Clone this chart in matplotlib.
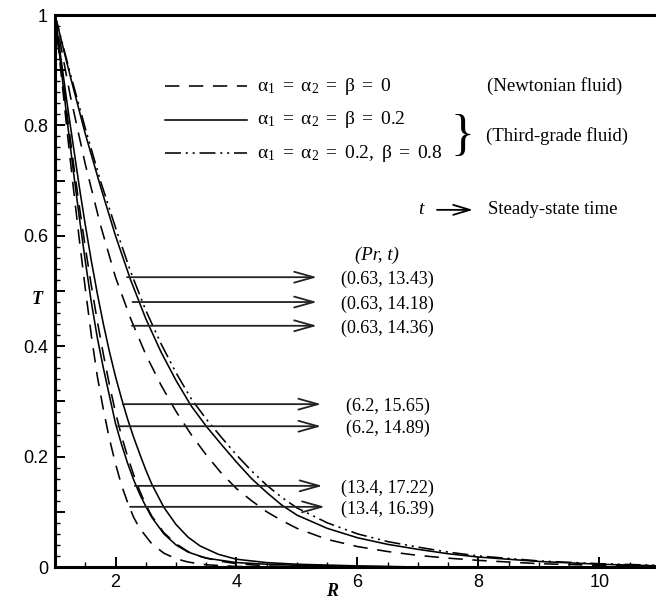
import numpy as np
import matplotlib
matplotlib.use("Agg")
import matplotlib.pyplot as plt
from matplotlib.ticker import FixedLocator, FuncFormatter, MultipleLocator

plt.rcParams["mathtext.fontset"] = "custom"
plt.rcParams["mathtext.rm"] = "Liberation Serif"
plt.rcParams["mathtext.it"] = "Liberation Serif:italic"
plt.rcParams["mathtext.bf"] = "Liberation Serif:bold"

# ---------------- data ----------------
# Pr = 0.63 (outer group)
R_out = [1, 1.25, 1.5, 1.75, 2, 2.25, 2.5, 2.75, 3, 3.25, 3.5, 3.75, 4, 4.25, 4.5,
         4.75, 5, 5.5, 6, 6.5, 7, 7.5, 8, 9, 10, 11]
T_n063 = [1, 0.855, 0.73, 0.62, 0.525, 0.45, 0.385, 0.33, 0.282, 0.24, 0.203, 0.17,
          0.142, 0.12, 0.1, 0.084, 0.07, 0.05, 0.037, 0.028, 0.021, 0.016, 0.012,
          0.006, 0.003, 0.001]
T_s063 = [1, 0.89, 0.785, 0.69, 0.6, 0.52, 0.45, 0.39, 0.338, 0.292, 0.255, 0.222,
          0.19, 0.16, 0.135, 0.112, 0.094, 0.07, 0.053, 0.041, 0.032, 0.024, 0.018,
          0.01, 0.005, 0.002]
T_d063 = [1, 0.895, 0.795, 0.70, 0.615, 0.535, 0.465, 0.405, 0.352, 0.305, 0.268,
          0.235, 0.203, 0.174, 0.148, 0.126, 0.107, 0.08, 0.06, 0.046, 0.036, 0.027,
          0.02, 0.011, 0.006, 0.003]

# Pr = 13.4 and 6.2 (inner groups)
R_n134 = [1, 1.1, 1.2, 1.3, 1.4, 1.5, 1.6, 1.7, 1.8, 1.9, 2.0, 2.1, 2.2, 2.3, 2.4,
          2.6, 2.8, 3.0, 3.2, 3.5, 4.0, 4.5]
T_n134 = [1, 0.895, 0.79, 0.69, 0.595, 0.505, 0.42, 0.345, 0.285, 0.232, 0.187,
          0.148, 0.117, 0.09, 0.07, 0.042, 0.025, 0.015, 0.009, 0.004, 0.001, 0]
R_s134 = [1, 1.1, 1.2, 1.3, 1.4, 1.5, 1.6, 1.7, 1.8, 1.9, 2.0, 2.1, 2.2, 2.3, 2.4,
          2.5, 2.6, 2.8, 3.0, 3.2, 3.5, 4.0, 4.5, 5.0, 6.0, 7]
T_s134 = [1, 0.905, 0.81, 0.72, 0.635, 0.555, 0.48, 0.415, 0.36, 0.31, 0.26, 0.222,
          0.188, 0.158, 0.132, 0.11, 0.09, 0.06, 0.04, 0.027, 0.016, 0.008, 0.005,
          0.003, 0.001, 0]
R_n62 = [1, 1.1, 1.2, 1.3, 1.4, 1.5, 1.6, 1.7, 1.8, 1.9, 2.0, 2.1, 2.2, 2.3, 2.4,
         2.5, 2.6, 2.8, 3.0, 3.2, 3.4, 3.7, 4.0, 4.5, 5.0]
T_n62 = [1, 0.91, 0.82, 0.735, 0.655, 0.58, 0.51, 0.445, 0.385, 0.33, 0.28, 0.237,
         0.2, 0.167, 0.138, 0.113, 0.092, 0.062, 0.042, 0.028, 0.019, 0.011, 0.006,
         0.002, 0]
R_s62 = [1, 1.1, 1.2, 1.3, 1.4, 1.5, 1.6, 1.7, 1.8, 1.9, 2.0, 2.1, 2.2, 2.3, 2.4,
         2.5, 2.6, 2.8, 3.0, 3.2, 3.4, 3.7, 4.0, 4.5, 5.0, 6.0, 7]
T_s62 = [1, 0.92, 0.84, 0.765, 0.69, 0.62, 0.555, 0.495, 0.44, 0.39, 0.345, 0.305,
         0.268, 0.235, 0.205, 0.176, 0.15, 0.108, 0.077, 0.054, 0.038, 0.023, 0.014,
         0.008, 0.005, 0.002, 0]

# arrows: (start R, T level, label)
arrow_R = [2.19, 2.28, 2.27, 2.12, 2.04, 2.32, 2.24]
arrow_T = [0.525, 0.480, 0.437, 0.295, 0.255, 0.147, 0.109]
arrow_end = [5.33, 5.33, 5.33, 5.40, 5.40, 5.42, 5.46]
arrow_lab = ["(0.63, 13.43)", "(0.63, 14.18)", "(0.63, 14.36)",
             "(6.2, 15.65)", "(6.2, 14.89)", "(13.4, 17.22)", "(13.4, 16.39)"]
label_R = 6.5

legend_lab = [r"$\mathrm{\alpha}_1\ =\ \mathrm{\alpha}_2\ =\ \mathrm{\beta}\ =\ 0$",
              r"$\mathrm{\alpha}_1\ =\ \mathrm{\alpha}_2\ =\ \mathrm{\beta}\ =\ 0.2$",
              r"$\mathrm{\alpha}_1\ =\ \mathrm{\alpha}_2\ =\ 0.2,\ \mathrm{\beta}\ =\ 0.8$"]

# ---------------- figure ----------------
W, H = 656, 601
fig = plt.figure(figsize=(W / 100, H / 100), dpi=100)
ax = fig.add_axes([55 / W, 1 - 567 / H, (W - 55) / W, (567 - 15) / H])

def px2R(p):
    return 1 + (p - 55) / 60.5

serif = ["Liberation Serif", "DejaVu Serif"]
lw = 1.15
dash = (0, (9, 6))
dashdot = (0, (10, 3, 1.3, 3, 1.3, 3))

for R, T in [(R_out, T_n063), (R_n134, T_n134), (R_n62, T_n62)]:
    ax.plot(R, T, color="black", lw=lw, linestyle=dash)
for R, T in [(R_out, T_s063), (R_s134, T_s134), (R_s62, T_s62)]:
    ax.plot(R, T, color="black", lw=lw, linestyle="-")
ax.plot(R_out, T_d063, color="black", lw=lw, linestyle=dashdot)

# arrows + labels
for r0, t0, r1, lab in zip(arrow_R, arrow_T, arrow_end, arrow_lab):
    ax.annotate("", xy=(r1, t0), xytext=(r0, t0),
                arrowprops=dict(arrowstyle="->,head_length=1.0,head_width=0.28",
                                color="#222222", lw=1.3, mutation_scale=14,
                                shrinkA=0, shrinkB=0))
    ax.text(label_R, t0 - 0.004, lab, family=serif, fontsize=13,
            ha="center", va="center")
ax.text(px2R(377), 0.565, "(Pr, t)", family=serif, fontsize=13.5, style="italic",
        ha="center", va="center")

# legend drawn inside
leg_y = [0.871, 0.81, 0.75]
styles = [dash, "-", dashdot]
x0, x1 = px2R(165), px2R(247)
for yy, st, lab in zip(leg_y, styles, legend_lab):
    ax.plot([x0, x1], [yy, yy], color="black", lw=lw, linestyle=st)
    ax.text(px2R(257), yy, lab, fontsize=14, ha="left", va="center")
ax.text(px2R(555), 0.872, "(Newtonian fluid)", family=serif,
        fontsize=13.5, ha="center", va="center")
ax.text(px2R(463), 0.78, "}", family=serif, fontsize=36,
        ha="center", va="center")
ax.text(px2R(557), 0.780, "(Third-grade fluid)", family=serif,
        fontsize=13.5, ha="center", va="center")
ax.text(px2R(421), 0.647, "t", family=serif, fontsize=14,
        style="italic", ha="center", va="center")
ax.annotate("", xy=(px2R(473), 0.647), xytext=(px2R(437), 0.647),
            arrowprops=dict(arrowstyle="->,head_length=1.0,head_width=0.3",
                            color="black", lw=1.3, mutation_scale=12,
                            shrinkA=0, shrinkB=0))
ax.text(px2R(488), 0.647, "Steady-state time", family=serif,
        fontsize=13.5, ha="left", va="center")

# axes styling
ax.set_xlim(1, px2R(W))
ax.set_ylim(0, 1)
for s in ["left", "bottom", "top"]:
    ax.spines[s].set_linewidth(2.2)
ax.spines["right"].set_visible(False)

ax.xaxis.set_major_locator(FixedLocator([2, 4, 6, 8, 10]))
ax.xaxis.set_minor_locator(MultipleLocator(0.5))
ax.yaxis.set_major_locator(FixedLocator(np.round(np.arange(0, 1.01, 0.1), 2)))
ax.yaxis.set_minor_locator(MultipleLocator(0.02))

def yfmt(v, pos):
    k = int(round(v * 10))
    if k % 2:
        return ""
    if k == 0:
        return "0"
    if k == 10:
        return "1"
    return f"{v:.1f}"

ax.yaxis.set_major_formatter(FuncFormatter(yfmt))
ax.tick_params(which="major", direction="in", length=7, width=1.4,
               labelsize=13, pad=5)
ax.tick_params(which="minor", direction="in", length=3.5, width=1.0)
ax.tick_params(top=False, right=False, which="both")
for lbl in ax.get_xticklabels() + ax.get_yticklabels():
    lbl.set_family(["Liberation Sans", "DejaVu Sans"])

# axis titles placed as in the reference
fig.text(332 / W, 1 - 592 / H, "R", family=serif, fontsize=13, style="italic",
         weight="bold", ha="center", va="center")
fig.text(37 / W, 1 - 300 / H, "T", family=serif, fontsize=13, style="italic",
         weight="bold", ha="center", va="center")

fig.savefig("out.png", dpi=100)
